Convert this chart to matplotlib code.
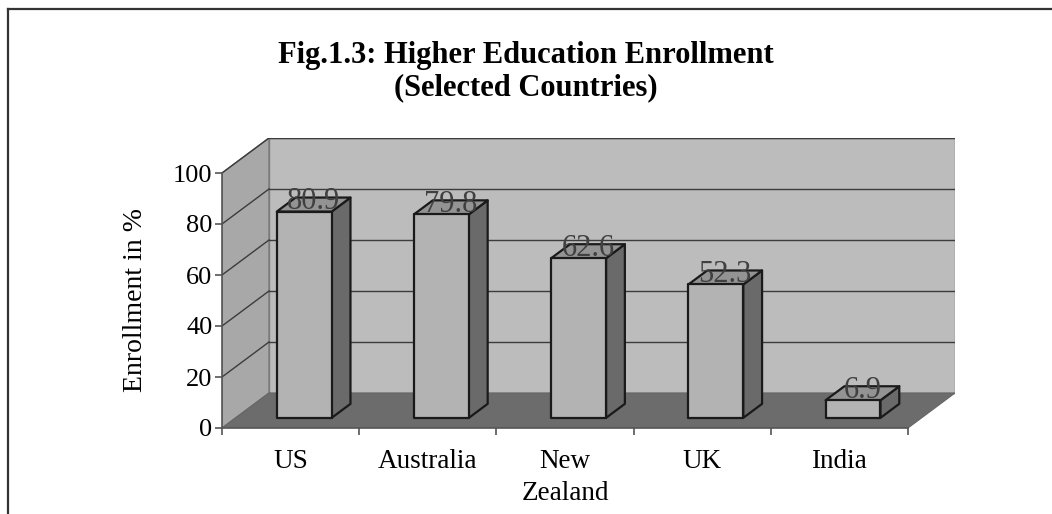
import numpy as np
import matplotlib
matplotlib.use("Agg")
import matplotlib.pyplot as plt
from matplotlib.patches import Polygon, Rectangle
from matplotlib.lines import Line2D

# ---------------- data ----------------
categories = ["US", "Australia", "New\nZealand", "UK", "India"]
values = [80.9, 79.8, 62.6, 52.3, 6.9]
yticks = [0, 20, 40, 60, 80, 100]
title = "Fig.1.3: Higher Education Enrollment\n(Selected Countries)"
ylabel = "Enrollment in %"

plt.rcParams['font.family'] = ['Liberation Serif', 'DejaVu Serif']

W, H = 1052, 514
fig = plt.figure(figsize=(W / 100, H / 100), dpi=100)

# ---------------- layout (pixels) ----------------
x0px, x1px = 222, 908      # front floor edge
ybot, ytop = 428, 173      # value 0 / value 100 on front axis
dpx, dpy = 47, 35          # 3-D depth offset
n = len(categories)
ymax = yticks[-1]
ppx = (x1px - x0px) / n
ppy = (ybot - ytop) / ymax
DX = dpx / ppx
DY = dpy / ppy

ax = fig.add_axes([x0px / W, (H - ybot) / H,
                   (x1px - x0px + dpx) / W, (ybot - ytop + dpy) / H])
ax.set_xlim(0, n + DX)
ax.set_ylim(0, ymax + DY)
ax.patch.set_visible(False)

# colours
c_back = "#bcbcbc"
c_side = "#a8a8a8"
c_floor = "#6c6c6c"
c_grid = "#3c3c3c"
c_front = "#b3b3b3"
c_bside = "#6a6a6a"
c_top = "#939393"

# walls
ax.add_patch(Rectangle((DX, DY), n, ymax, facecolor=c_back, edgecolor="#7a7a7a", lw=1.0, zorder=1))
ax.add_patch(Polygon([(0, 0), (DX, DY), (DX, ymax + DY), (0, ymax)], closed=True,
                     facecolor=c_side, edgecolor="#7a7a7a", lw=1.0, zorder=1))
ax.add_patch(Polygon([(0, 0), (n, 0), (n + DX, DY), (DX, DY)], closed=True,
                     facecolor=c_floor, edgecolor="#666666", lw=0.8, zorder=2))

# gridlines
for v in yticks[1:]:
    ax.plot([DX, n + DX], [v + DY, v + DY], color=c_grid, lw=1.0, zorder=2)
    ax.plot([0, DX], [v, v + DY], color=c_grid, lw=1.0, zorder=2)

# bars
w = 0.40
f0 = 0.29
fd = 0.40
bdx, bdy = fd * DX, fd * DY
for i, val in enumerate(values):
    bx = i + (1 - w) / 2 + f0 * DX
    by = f0 * DY
    ax.add_patch(Polygon([(bx + w, by), (bx + w + bdx, by + bdy), (bx + w + bdx, by + val + bdy),
                          (bx + w, by + val)], closed=True, facecolor=c_bside,
                         edgecolor="#1a1a1a", lw=1.6, joinstyle="round", zorder=4))
    ax.add_patch(Polygon([(bx, by + val), (bx + w, by + val), (bx + w + bdx, by + val + bdy),
                          (bx + bdx, by + val + bdy)], closed=True, facecolor=c_top,
                         edgecolor="#1a1a1a", lw=1.6, joinstyle="round", zorder=4))
    ax.add_patch(Rectangle((bx, by), w, val, facecolor=c_front, edgecolor="#1a1a1a",
                           lw=1.6, joinstyle="round", zorder=5))
    ax.text(bx + w / 2 + bdx / 2, by + val + 1.0, f"{val:.1f}", ha="center", va="baseline",
            fontsize=22, color="#404040", zorder=6)

# axes / ticks
for s in ["top", "right"]:
    ax.spines[s].set_visible(False)
ax.spines["left"].set_bounds(0, ymax)
ax.spines["bottom"].set_bounds(0, n)
for s in ["left", "bottom"]:
    ax.spines[s].set_color("#555555")
    ax.spines[s].set_linewidth(1.2)
    ax.spines[s].set_zorder(3)
ax.set_yticks(yticks)
ax.set_yticklabels([str(t) for t in yticks], fontsize=19)
ax.tick_params(axis="y", direction="out", length=5, width=1.2, color="#555555", pad=2)
ax.set_xticks(np.arange(n + 1))
ax.set_xticklabels([])
ax.tick_params(axis="x", which="major", direction="out", length=5, width=1.2, color="#555555")
ax.set_xticks(np.arange(n) + 0.5, minor=True)
ax.set_xticklabels(categories, minor=True, fontsize=19.5, linespacing=1.4)
ax.tick_params(axis="x", which="minor", length=0, pad=15)

fig.text(136 / W, 1 - 300 / H, ylabel, rotation=90, ha="center", va="center", fontsize=20)
fig.text(526 / W, 1 - 72 / H, title, ha="center", va="center", fontsize=22,
         fontweight="bold", linespacing=1.15)

# frame
fig.add_artist(Line2D([8 / W, 8 / W], [0, 1 - 9 / H], color="#333333", lw=1.6))
fig.add_artist(Line2D([8 / W, 1], [1 - 9 / H, 1 - 9 / H], color="#333333", lw=1.6))

fig.savefig("out.png", dpi=100)
